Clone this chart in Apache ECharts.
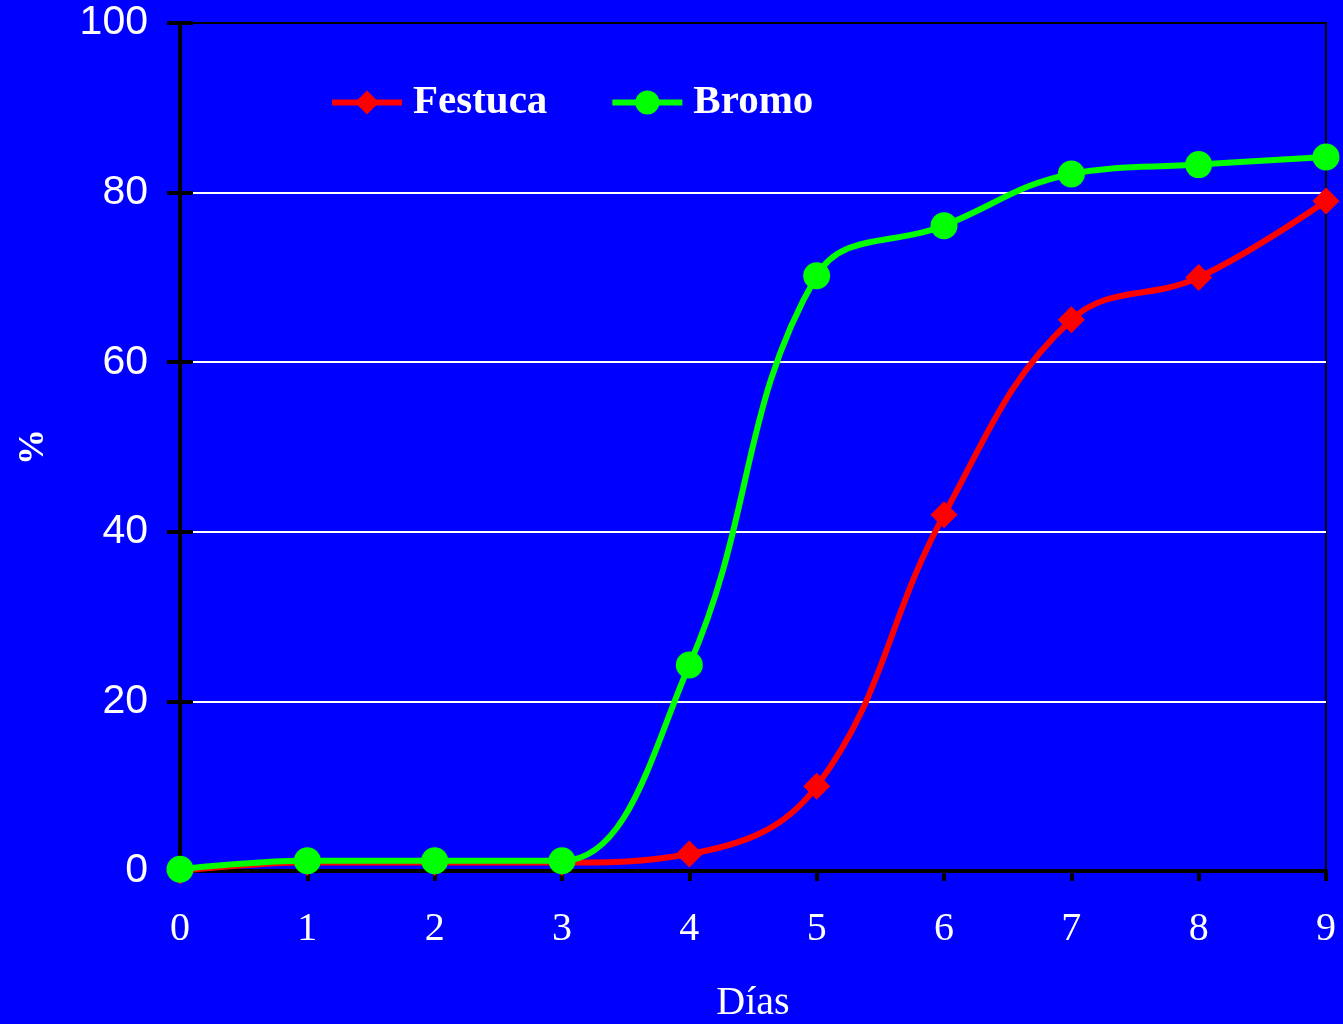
<!DOCTYPE html>
<html>
<head>
<meta charset="utf-8">
<script src="https://cdn.jsdelivr.net/npm/echarts@6/dist/echarts.min.js"></script>
<style>
  html, body { margin: 0; padding: 0; background: #0000ff; }
  #chart { width: 1343px; height: 1024px; }
</style>
</head>
<body>
<div id="chart"></div>
<script>
// datos
const dias = ['0', '1', '2', '3', '4', '5', '6', '7', '8', '9']
const festuca = [0, 1, 1, 1, 2, 10, 42, 65, 70, 79]
const bromo = [0.2, 1.2, 1.2, 1.2, 24.3, 70.2, 76.1, 82.2, 83.3, 84.2]
const yTicks = [0, 20, 40, 60, 80, 100]

const fondo = '#0000ff'
const blanco = '#ffffff'

const chart = echarts.init(document.getElementById('chart'))

// eje Y base, se repite para las marcas que cruzan el eje
const baseY = {
  type: 'value',
  min: yTicks[0],
  max: yTicks[yTicks.length - 1],
  interval: yTicks[1] - yTicks[0]
}

// lineas de la cuadricula blancas, la de arriba negra (borde)
const gridColors = yTicks.map((v, i) => (i === yTicks.length - 1 ? '#000' : blanco))

chart.setOption({
  backgroundColor: fondo,
  animation: false,
  grid: {
    left: 180, right: 17, top: 23, bottom: 153,
    outerBoundsMode: 'none',
    containLabel: false,
    show: true,
    borderColor: '#000',
    borderWidth: 2,
    backgroundColor: fondo
  },
  legend: {
    left: 324,
    top: 77,
    itemWidth: 70,
    itemHeight: 30,
    itemGap: 62,
    lineStyle: { width: 6 },
    textStyle: {
      color: blanco,
      fontFamily: 'Liberation Serif',
      fontWeight: 'bold',
      fontSize: 41,
      padding: [0, 0, 0, 6]
    },
    data: ['Festuca', 'Bromo']
  },
  xAxis: {
    type: 'category',
    data: dias,
    boundaryGap: false,
    name: 'Días',
    nameLocation: 'middle',
    nameGap: 112,
    nameTextStyle: { color: blanco, fontFamily: 'Liberation Serif', fontSize: 40 },
    axisLine: { lineStyle: { color: '#000', width: 4 } },
    axisTick: { alignWithLabel: true, length: 10, lineStyle: { color: '#000', width: 4 } },
    axisLabel: { color: blanco, fontFamily: 'Liberation Serif', fontSize: 40, margin: 38 },
    splitLine: { show: false }
  },
  yAxis: [
    {
      ...baseY,
      name: '%',
      nameLocation: 'middle',
      nameGap: 128,
      nameTextStyle: { color: blanco, fontFamily: 'Liberation Serif', fontWeight: 'bold', fontSize: 36 },
      axisLine: { show: true, lineStyle: { color: '#000', width: 4 } },
      axisTick: { show: true, length: 13, lineStyle: { color: '#000', width: 4 } },
      axisLabel: { color: blanco, fontFamily: 'Liberation Sans', fontSize: 41, margin: 32 },
      splitLine: { show: true, lineStyle: { color: gridColors, width: 2 } }
    },
    {
      ...baseY,
      position: 'left',
      axisLine: { show: false },
      axisTick: { show: true, inside: true, length: 13, lineStyle: { color: '#000', width: 4 } },
      axisLabel: { show: false },
      splitLine: { show: false }
    }
  ],
  series: [
    {
      name: 'Festuca',
      type: 'line',
      data: festuca,
      smooth: 0.4,
      symbol: 'diamond',
      symbolSize: 27,
      itemStyle: { color: '#ff0000' },
      lineStyle: { color: '#ff0000', width: 6 },
      z: 3
    },
    {
      name: 'Bromo',
      type: 'line',
      data: bromo,
      smooth: 0.4,
      symbol: 'circle',
      symbolSize: 27,
      itemStyle: { color: '#00ff00' },
      lineStyle: { color: '#00ff00', width: 6 },
      z: 4
    }
  ]
})
</script>
</body>
</html>
